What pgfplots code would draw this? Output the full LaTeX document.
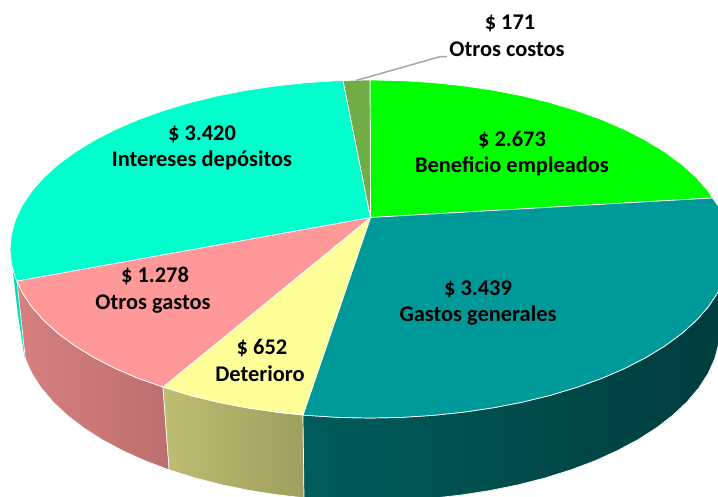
\documentclass[border=0pt]{standalone}
\usepackage{fontspec}
\setmainfont{Carlito}
\usepackage{pgfplots}
\pgfplotsset{compat=1.18}

\definecolor{cGreen}{HTML}{00FF00}
\definecolor{cTeal}{HTML}{009999}
\definecolor{cYellow}{HTML}{FFFF99}
\definecolor{cPink}{HTML}{FF9999}
\definecolor{cCyan}{HTML}{00FFCC}
\definecolor{cOlive}{HTML}{70AD47}
\definecolor{wPinkL}{HTML}{D68080}
\definecolor{wPinkR}{HTML}{BD6E6E}
\definecolor{wYellowL}{HTML}{BEBD72}
\definecolor{wYellowR}{HTML}{9F9F5F}
\definecolor{wTealL}{HTML}{005C5C}
\definecolor{wTealM}{HTML}{003A3A}
\definecolor{wTealR}{HTML}{003C3C}
\definecolor{wCyan}{HTML}{00DDB0}

\newcommand{\lab}[3]{\node[anchor=base,font=\fontsize{22.5}{26}\selectfont\bfseries,inner sep=0pt] at (axis cs:#1,#2) {#3};}

\begin{document}
\begin{tikzpicture}
\useasboundingbox (0,0) rectangle (718bp,497bp);
\begin{axis}[
    at={(0,0)}, anchor=south west,
    width=718bp, height=497bp, scale only axis,
    xmin=0, xmax=718, ymin=0, ymax=497,
    y dir=reverse,
    hide axis,
]
% side walls
\addplot[draw=none, fill=wCyan] coordinates {
    (12.7,270) (15.5,278.3) (17,281) (26,358) (24.5,357) (18,315)
} -- cycle;
\addplot[draw=white, line width=0.7pt, left color=wPinkL, right color=wPinkR] coordinates {
    (17,281) (22.3,292.7) (31.7,306.8) (43.7,320.4) (58.2,333.5) (75.1,345.9) (94.2,357.6)
    (115.4,368.5) (138.6,378.5) (163,387) (169.2,469.9) (145,460.8) (122.5,450.6) (101.9,439.6)
    (83.3,427.7) (66.9,415) (52.8,401.7) (41.1,387.8) (31.9,373.5) (25.3,358.9)
} -- cycle;
\addplot[draw=white, line width=0.7pt, left color=wYellowL, right color=wYellowR] coordinates {
    (163,387) (190,395.4) (217.9,402.2) (246.9,407.8) (276.8,412.2) (303,415)
    (304,497.8) (279.4,495.1) (250.3,490.6) (222.1,484.9) (195,478) (169.2,469.9)
} -- cycle;
\addplot[draw=white, line width=0.7pt, left color=wTealL, middle color=wTealM, right color=wTealR] coordinates {
    (303,415) (307.5,415.4) (338.6,417.4) (370,418) (401.4,417.4) (432.5,415.4) (463.2,412.2)
    (493.1,407.8) (522.1,402.2) (550,395.4) (576.5,387.4) (601.4,378.5) (624.6,368.5)
    (645.8,357.6) (664.9,345.9) (681.8,333.5) (696.3,320.4) (708.3,306.8) (717.7,292.7)
    (724.5,278.3) (728.6,263.7) (730,249) (720,329) (718.7,344) (714.7,358.9) (708.1,373.5)
    (698.9,387.8) (687.2,401.7) (673.1,415) (656.7,427.7) (638.1,439.6) (617.5,450.6)
    (595,460.8) (570.8,469.9) (545,478) (517.9,484.9) (489.7,490.6) (460.6,495.1) (430.8,498.4)
    (400.5,500.3) (370,501) (339.5,500.3) (304,497.8)
} -- cycle;
% top faces
\addplot[draw=white, line width=0.7pt, fill=cGreen] coordinates {
    (370.5,217.5) (712.5,198) (708.3,191.2) (696.3,177.6) (681.8,164.5) (664.9,152.1) (645.8,140.4)
    (624.6,129.5) (601.4,119.5) (576.5,110.6) (550,102.6) (522.1,95.8) (493.1,90.2) (463.2,85.8)
    (432.5,82.6) (401.4,80.6) (370,80)
} -- cycle;
\addplot[draw=white, line width=0.7pt, fill=cTeal] coordinates {
    (370.5,217.5) (303,415) (307.5,415.4) (338.6,417.4) (370,418) (401.4,417.4) (432.5,415.4)
    (463.2,412.2) (493.1,407.8) (522.1,402.2) (550,395.4) (576.5,387.4) (601.4,378.5) (624.6,368.5)
    (645.8,357.6) (664.9,345.9) (681.8,333.5) (696.3,320.4) (708.3,306.8) (717.7,292.7) (724.5,278.3)
    (728.6,263.7) (730,249) (728.6,234.3) (724.5,219.7) (717.7,205.3) (712.5,198)
} -- cycle;
\addplot[draw=white, line width=0.7pt, fill=cYellow] coordinates {
    (370.5,217.5) (163,387) (190,395.4) (217.9,402.2) (246.9,407.8) (276.8,412.2) (303,415)
} -- cycle;
\addplot[draw=white, line width=0.7pt, fill=cPink] coordinates {
    (370.5,217.5) (17,281) (22.3,292.7) (31.7,306.8) (43.7,320.4) (58.2,333.5) (75.1,345.9)
    (94.2,357.6) (115.4,368.5) (138.6,378.5) (163,387)
} -- cycle;
\addplot[draw=white, line width=0.7pt, fill=cCyan] coordinates {
    (370.5,217.5) (343,80.5) (338.6,80.6) (307.5,82.6) (276.8,85.8) (246.9,90.2) (217.9,95.8)
    (190,102.6) (163.5,110.6) (138.6,119.5) (115.4,129.5) (94.2,140.4) (75.1,152.1) (58.2,164.5)
    (43.7,177.6) (31.7,191.2) (22.3,205.3) (15.5,219.7) (11.4,234.3) (10,249) (11.4,263.7)
    (15.5,278.3) (17,281)
} -- cycle;
\addplot[draw=white, line width=0.7pt, fill=cOlive] coordinates {
    (370.5,217.5) (370,80) (343,80.5)
} -- cycle;
% leader line
\addplot[color=black!35, line width=1.5pt] coordinates {(356,80.5) (440,56.7) (447,56.7)};
% labels
\lab{510}{30}{\$ 171}
\lab{507}{57}{Otros costos}
\lab{512}{146}{\$ 2.673}
\lab{512}{172}{Beneficio empleados}
\lab{202}{140}{\$ 3.420}
\lab{202}{166}{Intereses depósitos}
\lab{478}{295}{\$ 3.439}
\lab{478}{321}{Gastos generales}
\lab{155}{282}{\$ 1.278}
\lab{153}{309}{Otros gastos}
\lab{262}{354}{\$ 652}
\lab{260}{381}{Deterioro}
\end{axis}
\end{tikzpicture}
\end{document}
